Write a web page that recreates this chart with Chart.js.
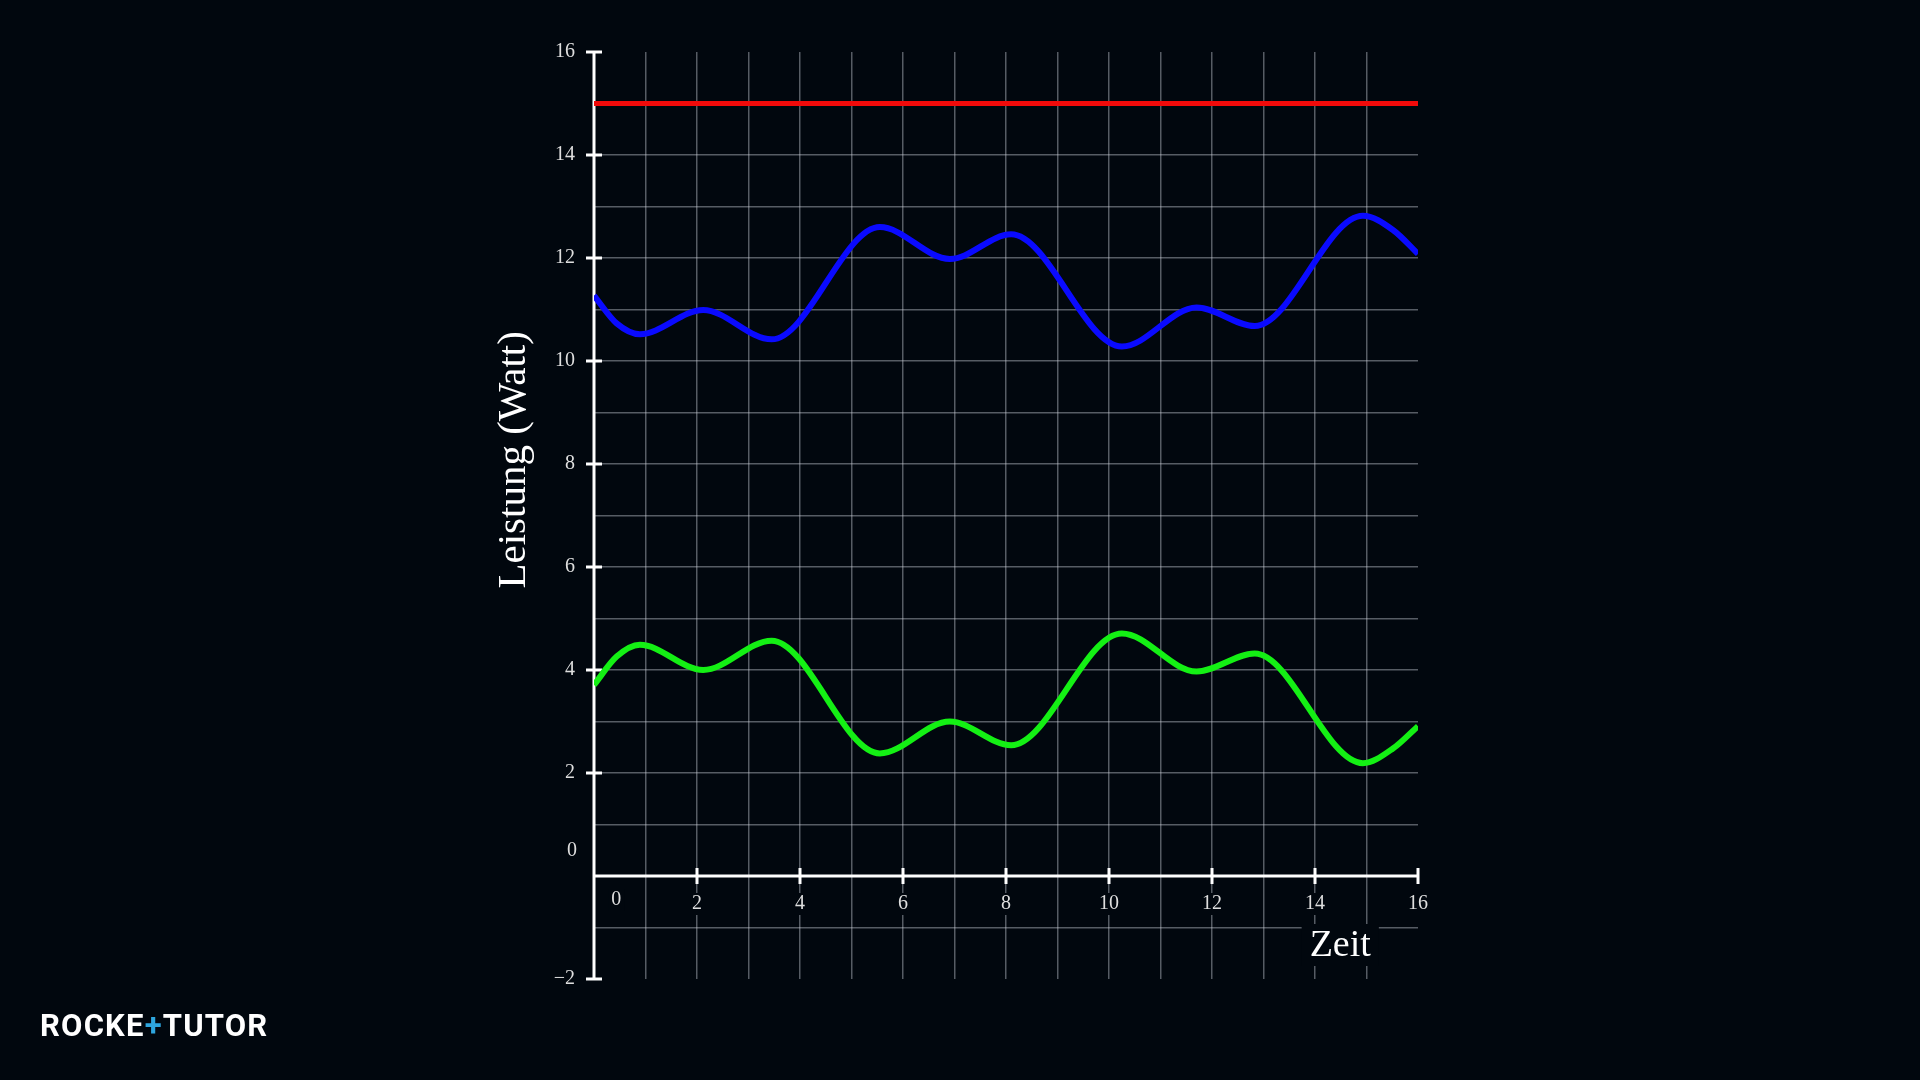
<!DOCTYPE html>
<html lang="de">
<head>
    <meta charset="UTF-8">
    <title>Leistung über Zeit</title>
    <style>
        html, body { margin: 0; padding: 0; background: #01070e; overflow: hidden; }
        #wrap { position: relative; width: 1920px; height: 1080px; }
        #logo {
            position: absolute; left: 40px; top: 1008px;
            font-family: Roboto, sans-serif; font-weight: 700; font-size: 31px;
            letter-spacing: 1.2px; color: #ffffff; line-height: 36px;
        }
        #logo span { color: #2ea6df; }
    </style>
    <script src="https://cdn.jsdelivr.net/npm/chart.js"></script>
</head>
<body>
<div id="wrap">
    <canvas id="powerChart" width="1920" height="1080"></canvas>
    <div id="logo">ROCKE<span>+</span>TUTOR</div>
</div>
<script>
    const timePoints = [0, 0.44, 0.89, 2.12, 3.45, 5.55, 6.91, 8.1, 10.25, 11.7, 12.83, 14.93, 15.52, 16];
    const blueSeries = [11.27, 10.73, 10.52, 10.99, 10.42, 12.6, 11.98, 12.46, 10.28, 11.04, 10.68, 12.82, 12.54, 12.08];
    const greenSeries = [3.71, 4.26, 4.49, 4.0, 4.57, 2.38, 3.0, 2.54, 4.71, 3.97, 4.32, 2.19, 2.48, 2.91];
    const redTime = [0, 16];
    const redSeries = [15, 15];

    const yTickValues = [-2, 0, 2, 4, 6, 8, 10, 12, 14, 16];
    const yTickLabels = ['\u22122', '0', '2', '4', '6', '8', '10', '12', '14', '16'];
    const xTickValues = [0, 2, 4, 6, 8, 10, 12, 14, 16];
    const xTickLabels = ['0', '2', '4', '6', '8', '10', '12', '14', '16'];

    const xTitle = 'Zeit';
    const yTitle = 'Leistung (Watt)';

    const BG = '#01070e';
    const GRID = 'rgba(205, 210, 220, 0.42)';
    const LABEL = '#dedede';

    function toPoints(xs, ys) {
        return xs.map((x, i) => ({ x: x, y: ys[i] }));
    }

    // Achsen mit Kreuz-Ticks, Beschriftungen und Titeln
    const crossAxes = {
        id: 'crossAxes',
        beforeDatasetsDraw(chart) {
            const { ctx, scales: { x, y } } = chart;
            const x0 = x.getPixelForValue(0);
            const y0 = y.getPixelForValue(0);
            ctx.save();

            ctx.strokeStyle = '#ffffff';
            ctx.lineWidth = 3;
            ctx.beginPath();
            ctx.moveTo(x0, y.getPixelForValue(16));
            ctx.lineTo(x0, y.getPixelForValue(-2));
            ctx.moveTo(x0, y0);
            ctx.lineTo(x.getPixelForValue(16), y0);
            yTickValues.filter(v => v !== 0).forEach(v => {
                const py = y.getPixelForValue(v);
                ctx.moveTo(x0 - 8, py);
                ctx.lineTo(x0 + 8, py);
            });
            xTickValues.filter(v => v !== 0).forEach(v => {
                const px = x.getPixelForValue(v);
                ctx.moveTo(px, y0 - 8);
                ctx.lineTo(px, y0 + 8);
            });
            ctx.stroke();

            // x-Beschriftungen unter der Achse
            ctx.font = '20px "Liberation Serif", serif';
            ctx.textAlign = 'center';
            ctx.textBaseline = 'middle';
            xTickValues.forEach((v, i) => {
                const px = v === 0 ? x.getPixelForValue(0.43) : x.getPixelForValue(v);
                const py = v === 0 ? y0 + 24 : y0 + 28;
                const w = ctx.measureText(xTickLabels[i]).width;
                ctx.fillStyle = BG;
                ctx.fillRect(px - w / 2 - 3, py - 11, w + 6, 22);
                ctx.fillStyle = LABEL;
                ctx.fillText(xTickLabels[i], px, py);
            });

            // die 0 der y-Achse sitzt etwas höher
            ctx.textAlign = 'right';
            ctx.fillText('0', x0 - 17, y0 - 25);

            // Titel
            ctx.font = '38px "Liberation Serif", serif';
            ctx.textAlign = 'center';
            ctx.textBaseline = 'alphabetic';
            const tx = x.getPixelForValue(14.49);
            const tw = ctx.measureText(xTitle).width;
            ctx.fillStyle = BG;
            ctx.fillRect(tx - tw / 2 - 8, y0 + 48, tw + 16, 42);
            ctx.fillStyle = '#ffffff';
            ctx.fillText(xTitle, tx, y0 + 80);

            ctx.translate(x0 - 69, y.getPixelForValue(8.08));
            ctx.rotate(-Math.PI / 2);
            ctx.font = '41px "Liberation Serif", serif';
            ctx.fillText(yTitle, 0, 0);
            ctx.restore();
        }
    };

    const ctx = document.getElementById('powerChart').getContext('2d');
    new Chart(ctx, {
        type: 'line',
        data: {
            datasets: [
                {
                    data: toPoints(redTime, redSeries),
                    borderColor: '#f20a0a',
                    borderWidth: 5,
                    pointRadius: 0
                },
                {
                    data: toPoints(timePoints, blueSeries),
                    borderColor: '#0a0aff',
                    borderWidth: 6,
                    pointRadius: 0,
                    cubicInterpolationMode: 'monotone'
                },
                {
                    data: toPoints(timePoints, greenSeries),
                    borderColor: '#14f014',
                    borderWidth: 6,
                    pointRadius: 0,
                    cubicInterpolationMode: 'monotone'
                }
            ]
        },
        options: {
            responsive: false,
            animation: false,
            events: [],
            layout: { padding: { left: 0, right: 502, top: 52, bottom: 101 } },
            plugins: {
                legend: { display: false },
                tooltip: { enabled: false }
            },
            scales: {
                x: {
                    type: 'linear',
                    min: 0,
                    max: 16,
                    position: 'bottom',
                    ticks: { display: false, stepSize: 1 },
                    grid: {
                        drawTicks: false,
                        lineWidth: 1.5,
                        color: c => c.tick && c.tick.value === 16 ? 'transparent' : GRID
                    },
                    border: { display: false },
                    afterFit: s => { s.height = 0; }
                },
                y: {
                    type: 'linear',
                    min: -2,
                    max: 16,
                    position: 'left',
                    ticks: {
                        stepSize: 1,
                        autoSkip: false,
                        padding: 19,
                        color: LABEL,
                        font: { family: '"Liberation Serif", serif', size: 20 },
                        callback: v => {
                            const i = yTickValues.indexOf(v);
                            return i < 0 || v === 0 ? '' : yTickLabels[i];
                        }
                    },
                    grid: {
                        drawTicks: false,
                        lineWidth: 1.5,
                        color: c => c.tick && (c.tick.value === 16 || c.tick.value === -2) ? 'transparent' : GRID
                    },
                    border: { display: false },
                    afterFit: s => { s.width = 594; }
                }
            }
        },
        plugins: [crossAxes]
    });
</script>
</body>
</html>
